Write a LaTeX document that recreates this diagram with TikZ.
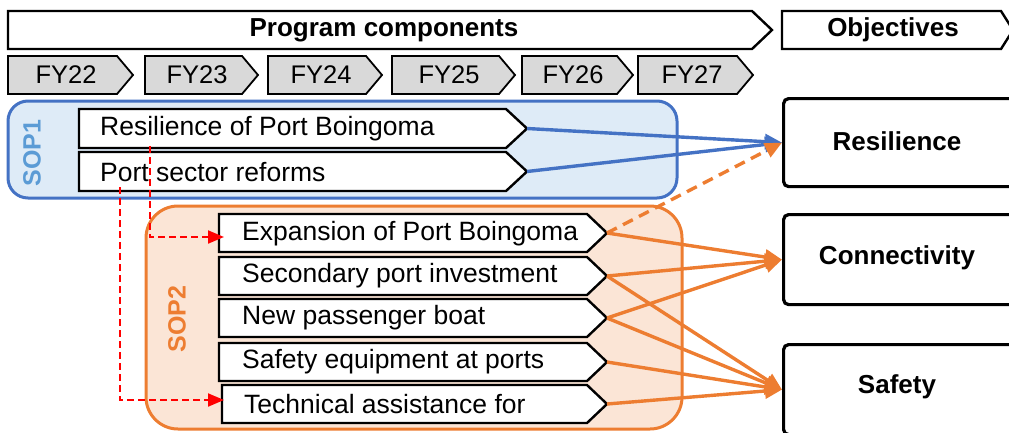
\documentclass[tikz,border=0pt]{standalone}
\usepackage{fontspec}
\setmainfont{Liberation Sans}
\usetikzlibrary{arrows.meta,calc}
\definecolor{sopblue}{HTML}{4472C4}
\definecolor{sopbluefill}{HTML}{DEEBF7}
\definecolor{soplabelblue}{HTML}{5B9BD5}
\definecolor{soporange}{HTML}{ED7D31}
\definecolor{soporangefill}{HTML}{FBE5D6}
\definecolor{fygray}{HTML}{D9D9D9}
% #1 style, #2 x1, #3 y1, #4 body end x, #5 tip x, #6 y2, #7 name
\newcommand\chev[7]{%
  \path[#1] (#2,#3) -- (#4,#3) -- (#5,{(#3+#6)/2}) -- (#4,#6) -- (#2,#6) -- cycle;
  \coordinate (#7-w) at (#2,{(#3+#6)/2});
  \coordinate (#7-e) at (#5,{(#3+#6)/2});
}
\tikzset{
  chevwhite/.style={draw=black, line width=2.4pt, fill=white, line join=miter},
  chevgray/.style={draw=black, line width=1.8pt, fill=fygray, line join=miter},
  hdrtext/.style={font=\bfseries\fontsize{26}{30}\selectfont, inner sep=0pt},
  fytext/.style={font=\fontsize{25.5}{30}\selectfont, inner sep=0pt},
  comptext/.style={font=\fontsize{26.5}{30}\selectfont, inner sep=0pt, anchor=west},
  objbox/.style={draw=black, line width=3.2pt, fill=white, rounded corners=5pt, anchor=north west, inner sep=0pt},
  objtext/.style={font=\bfseries\fontsize{26}{30}\selectfont, inner sep=0pt},
  soplabel/.style={font=\bfseries\fontsize{25}{30}\selectfont, inner sep=0pt, rotate=90},
  arrblue/.style={draw=sopblue, line width=3.4pt, -{Triangle[length=17pt,width=15pt]}},
  arrorange/.style={draw=soporange, line width=3.4pt, -{Triangle[length=17pt,width=15pt]}},
  arrorangedash/.style={arrorange, dash pattern=on 11pt off 7pt},
  reddash/.style={draw=red, line width=2pt, dash pattern=on 7pt off 4pt, -{Triangle[length=16pt,width=13pt]}}
}
\begin{document}
\begin{tikzpicture}[x=1pt,y=-1pt]
\useasboundingbox (0,0) rectangle (1009,432);
\clip (0,0) rectangle (1009,432);

% header chevrons
\chev{chevwhite}{8}{11}{752}{772}{49}{hdr}
\node[hdrtext] (hdrt) at (384,30) {Program components};
\chev{chevwhite}{782}{11}{1001}{1013}{49}{obj}
\node[hdrtext] (objt) at (893,30) {Objectives};

% fiscal years
\chev{chevgray}{8}{56}{117}{133}{94}{fy22}
\node[fytext] (fy22t) at (66,75) {FY22};
\chev{chevgray}{145}{56}{242}{258}{94}{fy23}
\node[fytext] (fy23t) at (197,75) {FY23};
\chev{chevgray}{268}{56}{366}{382}{94}{fy24}
\node[fytext] (fy24t) at (321,75) {FY24};
\chev{chevgray}{392}{56}{499}{515}{94}{fy25}
\node[fytext] (fy25t) at (449,75) {FY25};
\chev{chevgray}{522}{56}{617}{633}{94}{fy26}
\node[fytext] (fy26t) at (573,75) {FY26};
\chev{chevgray}{638}{56}{737}{753}{94}{fy27}
\node[fytext] (fy27t) at (692,75) {FY27};

% SOP groups
\draw[draw=sopblue, fill=sopbluefill, line width=3pt, rounded corners=20pt] (8,101) rectangle (677,198);
\node[soplabel, text=soplabelblue] (sop1) at (32,153) {SOP1};
\draw[draw=soporange, fill=soporangefill, line width=3pt, rounded corners=32pt] (146,206) rectangle (682,429);
\node[soplabel, text=soporange] (sop2) at (177,319) {SOP2};

% SOP1 components
\chev{chevwhite}{79}{109}{506}{527}{148}{c1}
\node[comptext] (c1t) at (100,129) {Resilience of Port Boingoma};
\chev{chevwhite}{79}{152}{506}{527}{191}{c2}
\node[comptext] (c2t) at (100,172) {Port sector reforms};

% SOP2 components
\chev{chevwhite}{219}{214}{587}{607}{252}{d1}
\node[comptext] (d1t) at (242,234) {Expansion of Port Boingoma};
\chev{chevwhite}{219}{257}{587}{607}{295}{d2}
\node[comptext] (d2t) at (242,276) {Secondary port investment};
\chev{chevwhite}{219}{299}{587}{607}{337}{d3}
\node[comptext] (d3t) at (242,318) {New passenger boat};
\chev{chevwhite}{219}{343}{587}{607}{381}{d4}
\node[comptext] (d4t) at (242,362) {Safety equipment at ports};
\chev{chevwhite}{222}{385}{587}{607}{423}{d5}
\node[comptext] (d5t) at (244,404) {Technical assistance for};

% objective boxes
\node[objbox, minimum width=231pt, minimum height=88pt] (o1) at (782,97) {};
\node[objtext] (o1t) at (897,141) {Resilience};
\node[objbox, minimum width=231pt, minimum height=90pt] (o2) at (782,213) {};
\node[objtext] (o2t) at (897,258) {Connectivity};
\node[objbox, minimum width=231pt, minimum height=90pt] (o3) at (782,343) {};
\node[objtext] (o3t) at (897,387) {Safety};

% arrows
\draw[arrblue] (c1-e) -- (o1.west);
\draw[arrblue] (c2-e) -- (o1.west);
\draw[arrorangedash] (d1-e) -- (o1.west);
\draw[arrorange] (d1-e) -- (o2.west);
\draw[arrorange] (d2-e) -- (o2.west);
\draw[arrorange] (d3-e) -- (o2.west);
\draw[arrorange] (d2-e) -- (o3.west);
\draw[arrorange] (d3-e) -- (o3.west);
\draw[arrorange] (d4-e) -- (o3.west);
\draw[arrorange] (d5-e) -- (o3.west);

% red dependency lines
\coordinate (r1s) at (150,146);
\coordinate (r2s) at (120,187);
\draw[reddash] (r1s) |- ($(d1-w)+(5,4)$);
\draw[reddash] (r2s) |- ($(d5-w)+(2,-4)$);
\end{tikzpicture}
\end{document}
